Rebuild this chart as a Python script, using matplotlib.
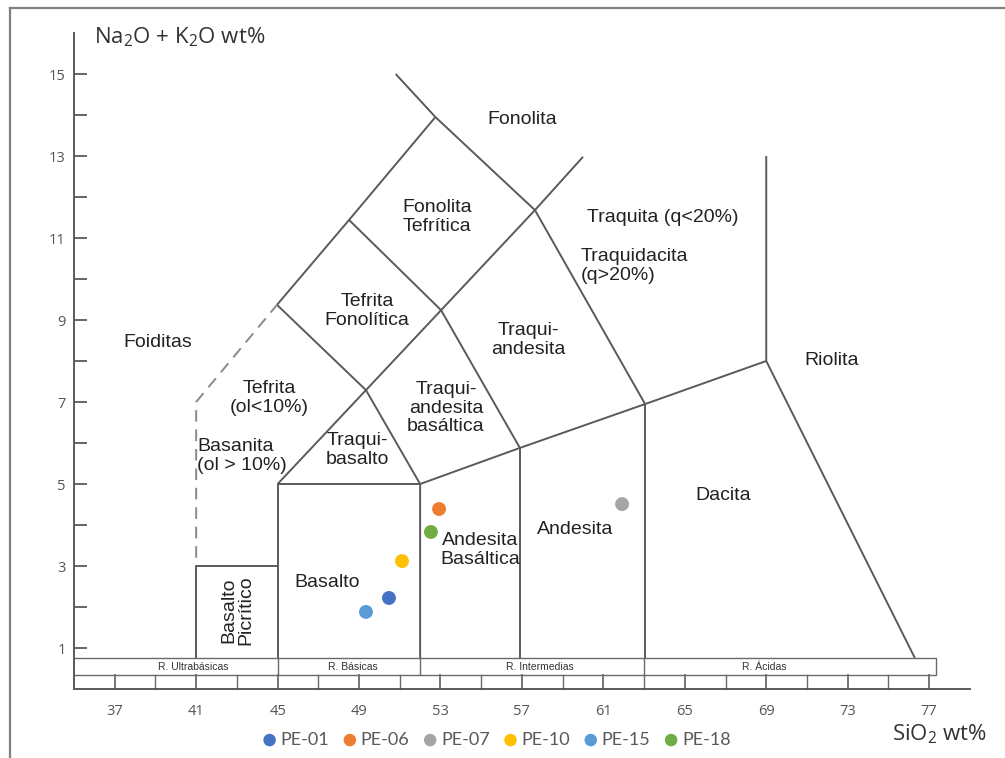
import matplotlib
matplotlib.use("Agg")
import matplotlib.pyplot as plt
from matplotlib.lines import Line2D
import numpy as np

plt.rcParams["mathtext.fontset"] = "custom"
plt.rcParams["mathtext.rm"] = "Open Sans"
plt.rcParams["mathtext.it"] = "Open Sans"

# samples (SiO2 wt%, Na2O+K2O wt%)
samples = ["PE-01", "PE-06", "PE-07", "PE-10", "PE-15", "PE-18"]
sio2 = [50.47, 52.93, 61.92, 51.11, 49.34, 52.53]
alk = [2.22, 4.39, 4.51, 3.12, 1.88, 3.83]
colors = ["#4472C4", "#ED7D31", "#A5A5A5", "#FFC000", "#5B9BD5", "#70AD47"]

# TAS field boundaries
solid_lines = [
    [(41, 0.756), (41, 3), (45, 3)],
    [(45, 0.756), (45, 5), (52, 5)],
    [(52, 0.756), (52, 5), (56.9, 5.88), (63.05, 6.95), (69, 8)],
    [(56.9, 0.756), (56.9, 5.88)],
    [(63.05, 0.756), (63.05, 6.95)],
    [(69, 13), (69, 8), (76.3, 0.756)],
    [(45, 5), (49.34, 7.29), (53.03, 9.24), (57.64, 11.68), (60.0, 12.98)],
    [(49.34, 7.29), (52, 5)],
    [(53.03, 9.24), (56.9, 5.88)],
    [(57.64, 11.68), (63.05, 6.95)],
    [(44.97, 9.37), (49.34, 7.29)],
    [(44.97, 9.37), (48.51, 11.44), (52.75, 13.95), (57.64, 11.68)],
    [(48.51, 11.44), (53.03, 9.24)],
    [(52.75, 13.95), (50.8, 15.0)],
]
dashed_line = [(41, 3.2), (41, 7), (44.97, 9.37)]

field_labels = [
    ("Fonolita", 57.0, 13.88, "center"),
    ("Fonolita\nTefrítica", 52.83, 11.51, "center"),
    ("Tefrita\nFonolítica", 49.39, 9.22, "center"),
    ("Traquita (q<20%)", 60.2, 11.51, "left"),
    ("Traquidacita\n(q>20%)", 59.9, 10.32, "left"),
    ("Traqui-\nandesita", 57.3, 8.51, "center"),
    ("Foiditas", 39.1, 8.44, "center"),
    ("Tefrita\n(ol<10%)", 44.6, 7.1, "center"),
    ("Traqui-\nandesita\nbasáltica", 53.27, 6.85, "center"),
    ("Basanita\n(ol > 10%)", 41.05, 5.68, "left"),
    ("Traqui-\nbasalto", 48.9, 5.83, "center"),
    ("Basalto", 47.43, 2.59, "center"),
    ("Andesita\nBasáltica", 54.94, 3.39, "center"),
    ("Andesita", 59.6, 3.88, "center"),
    ("Dacita", 66.9, 4.71, "center"),
    ("Riolita", 72.2, 8.02, "center"),
]

strip_names = ["R. Ultrabásicas", "R. Básicas", "R. Intermedias", "R. Ácidas"]
strip_bounds = [35, 45, 52, 63, 77.34]
strip_label_x = [40.85, 48.68, 57.9, 68.9]

yticks = list(range(1, 16))
xtick_labels = list(range(37, 78, 4))

line_col = "#5a5a5a"

fig = plt.figure(figsize=(10.05, 7.58), dpi=100)
ax = fig.add_axes([0, 0, 1, 1])
ax.set_xlim(35 - 74 / 20.36, 35 + (1005 - 74) / 20.36)
ax.set_ylim((689 - 758) / 41, 689 / 41)

for s in ["top", "right"]:
    ax.spines[s].set_visible(False)
ax.spines["left"].set_position(("data", 35))
ax.spines["left"].set_bounds(0, 16)
ax.spines["bottom"].set_position(("data", 0))
ax.spines["bottom"].set_bounds(35, 79)
for s in ["left", "bottom"]:
    ax.spines[s].set_color(line_col)
    ax.spines[s].set_linewidth(1.4)

ax.set_yticks(yticks)
ax.set_yticklabels([str(v) if v % 2 else "" for v in yticks],
                   fontfamily="Open Sans", fontsize=10.5, color="#555555")
ax.tick_params(axis="y", direction="in", length=9, width=1.3, color=line_col, pad=6)
ax.set_xticks(xtick_labels)
ax.set_xticklabels([str(v) for v in xtick_labels],
                   fontfamily="Open Sans", fontsize=10.5, color="#555555")
ax.tick_params(axis="x", length=0, pad=11)

# field boundaries
for seg in solid_lines:
    xs, ys = zip(*seg)
    ax.plot(xs, ys, color=line_col, lw=1.4, solid_capstyle="butt")
xs, ys = zip(*dashed_line)
ax.plot(xs, ys, color="#8a8a8a", lw=1.4, linestyle=(0, (6, 4)))

# rock class strip
sc = "#6a6a6a"
ax.plot([35, 77.34, 77.34, 35], [0.756, 0.756, 0.34, 0.34], color=sc, lw=1.0)
for b in strip_bounds[1:-1]:
    ax.plot([b, b], [0.34, 0.756], color=sc, lw=1.0)
for xt in range(37, 78, 2):
    ax.plot([xt, xt], [0, 0.34], color=sc, lw=1.3 if xt % 4 == 1 else 1.0)
for name, xc in zip(strip_names, strip_label_x):
    ax.text(xc, 0.54, name, ha="center", va="center", fontsize=7.5,
            fontfamily="Liberation Sans", color="#333333")

for txt, x, y, ha in field_labels:
    ax.text(x, y, txt, ha=ha, va="center", fontsize=14, fontfamily="Liberation Sans",
            color="#222222", linespacing=1.1, multialignment=ha)
ax.text(43.0, 1.93, "Basalto\nPicrítico", ha="center", va="center", rotation=90,
        fontsize=14, fontfamily="Liberation Sans", color="#222222", linespacing=1.0)

ax.text(36.0, 15.9, "Na$_2$O + K$_2$O wt%", ha="left", va="center", fontsize=16,
        fontfamily="Open Sans", color="#333333")
ax.text(75.2, -1.1, "SiO$_2$ wt%", ha="left", va="center", fontsize=16,
        fontfamily="Open Sans", color="#333333")

for name, x, y, c in zip(samples, sio2, alk, colors):
    ax.scatter(x, y, s=100, color=c, zorder=5, label=name, edgecolors="none")

leg = fig.legend(loc="center", bbox_to_anchor=(0.494, 0.024), ncol=6, frameon=False,
                 handlelength=0.8, handletextpad=0.2, columnspacing=0.75, markerscale=0.9,
                 prop={"family": "Lato", "size": 13})
for t in leg.get_texts():
    t.set_color("#595959")

# outer frame (top and left edges)
fig.add_artist(Line2D([10 / 1005, 1], [1 - 8 / 758, 1 - 8 / 758], color="#808080", lw=1.6))
fig.add_artist(Line2D([10 / 1005, 10 / 1005], [0, 1 - 8 / 758], color="#808080", lw=1.6))

fig.savefig("out.png", dpi=100)
